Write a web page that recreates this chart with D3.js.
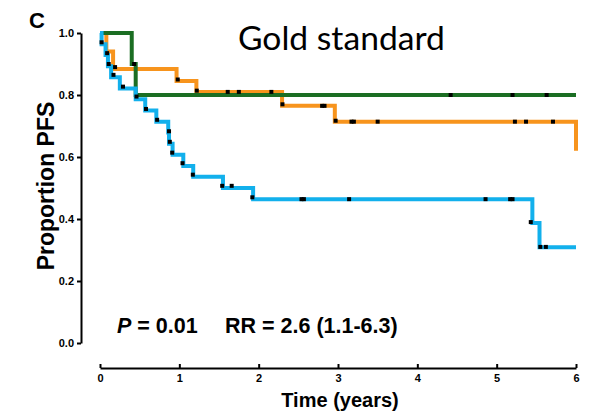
<!DOCTYPE html>
<html>
<head>
<meta charset="utf-8">
<script src="https://cdn.jsdelivr.net/npm/d3@7"></script>
<style>
  html, body { margin: 0; padding: 0; background: #fff; }
  svg { display: block; }
</style>
</head>
<body>
<svg id="chart" width="590" height="411"></svg>
<script>
// Kaplan–Meier step data: time (years) of each step and the survival level after it
const greenTimes  = [0, 0.40, 0.45, 6.0];
const greenSurv   = [1, 0.90, 0.80, 0.80];
const orangeTimes = [0, 0.08, 0.165, 0.965, 1.215, 2.295, 2.96, 6.0];
const orangeSurv  = [1, 0.94, 0.884, 0.845, 0.81, 0.765, 0.714, 0.62];
const blueTimes   = [0, 0.02, 0.07, 0.10, 0.14, 0.25, 0.45, 0.57, 0.71, 0.86, 0.87, 0.915, 1.05, 1.175, 1.55, 1.93, 5.45, 5.54, 6.0];
const blueSurv    = [1, 0.964, 0.929, 0.893, 0.857, 0.821, 0.786, 0.75, 0.714, 0.679, 0.643, 0.607, 0.571, 0.536, 0.5, 0.464, 0.387, 0.309, 0.309];

// censoring ticks [time, level]
const greenCensor  = [[0.43, 0.90], [4.42, 0.80], [5.20, 0.80], [5.63, 0.80]];
const orangeCensor = [[0.19, 0.89], [0.98, 0.85], [1.22, 0.814], [1.61, 0.81], [1.75, 0.81], [2.16, 0.81],
                      [2.30, 0.77], [2.80, 0.765], [2.83, 0.765], [2.97, 0.717], [3.17, 0.714], [3.20, 0.714],
                      [3.50, 0.714], [5.23, 0.714], [5.37, 0.714], [5.71, 0.714]];
const blueCensor   = [[0.02, 0.97], [0.09, 0.935], [0.11, 0.90], [0.17, 0.865], [0.29, 0.827], [0.46, 0.795],
                      [0.58, 0.755], [0.72, 0.72], [0.87, 0.683], [0.88, 0.649], [0.91, 0.614], [1.04, 0.58],
                      [1.17, 0.543], [1.54, 0.507], [1.66, 0.507], [1.92, 0.47], [2.54, 0.464], [2.57, 0.464],
                      [3.14, 0.464], [4.86, 0.464], [5.17, 0.464], [5.20, 0.464], [5.43, 0.39], [5.55, 0.31], [5.62, 0.31]];

const xTicks = [0, 1, 2, 3, 4, 5, 6];
const yTicks = [0, 0.2, 0.4, 0.6, 0.8, 1.0];

const panelLetter = "C";
const titleText = "Gold standard";
const xLabel = "Time (years)";
const yLabel = "Proportion PFS";
const pText = "= 0.01";
const rrText = "RR = 2.6 (1.1-6.3)";

const colors = { green: "#1b6e23", orange: "#f7941d", blue: "#12b0ec" };

const svg = d3.select("#chart");
const x = d3.scaleLinear().domain([0, 6]).range([100, 576]);
const y = d3.scaleLinear().domain([0, 1]).range([343, 33]);
const boldFont = "'Liberation Sans', Arial, Helvetica, sans-serif";

// y axis
const yAxis = svg.append("g")
  .attr("transform", `translate(81,0)`)
  .call(d3.axisLeft(y).tickValues(yTicks).tickFormat(d3.format(".1f")).tickSize(4).tickSizeOuter(0).tickPadding(3));
yAxis.select(".domain").attr("stroke-width", 2);
yAxis.selectAll(".tick line").attr("stroke-width", 2);
yAxis.selectAll("text").attr("font-family", boldFont).attr("font-weight", "bold").attr("font-size", 11).attr("fill", "#000");

// x axis (detached, below the plot)
const xAxis = svg.append("g")
  .attr("transform", `translate(0,368)`)
  .call(d3.axisBottom(x).tickValues(xTicks).tickFormat(d3.format("d")).tickSize(-4).tickSizeOuter(0).tickPadding(6));
xAxis.select(".domain").attr("stroke-width", 2);
xAxis.selectAll(".tick line").attr("stroke-width", 2);
xAxis.selectAll("text").attr("font-family", boldFont).attr("font-weight", "bold").attr("font-size", 11).attr("fill", "#000");

// survival curves
const step = d3.line().x(d => x(d[0])).y(d => y(d[1])).curve(d3.curveStepAfter);
const series = [
  { name: "orange", t: orangeTimes, s: orangeSurv, c: orangeCensor },
  { name: "green",  t: greenTimes,  s: greenSurv,  c: greenCensor },
  { name: "blue",   t: blueTimes,   s: blueSurv,   c: blueCensor }
];
series.forEach(sr => {
  const pts = sr.t.map((t, i) => [t, sr.s[i]]);
  svg.append("path")
    .attr("d", step(pts))
    .attr("fill", "none")
    .attr("stroke", colors[sr.name])
    .attr("stroke-width", 4);
});
series.forEach(sr => {
  svg.append("g").selectAll("rect").data(sr.c).join("rect")
    .attr("x", d => x(d[0]) - 2)
    .attr("y", d => y(d[1]) - 2)
    .attr("width", 4)
    .attr("height", 4)
    .attr("fill", "#000");
});

// panel letter
svg.append("text").attr("x", 29).attr("y", 28)
  .attr("font-family", boldFont).attr("font-weight", "bold").attr("font-size", 22)
  .text(panelLetter);

// title, fitted to its width
const title = svg.append("text").attr("x", 238).attr("y", 50)
  .attr("font-family", "Lato, 'Open Sans', sans-serif").attr("font-size", 28).attr("fill", "#000")
  .text(titleText);
const tw = title.node().getComputedTextLength();
title.attr("font-size", 28 * 207 / tw);

// axis titles
svg.append("text").attr("x", 340).attr("y", 407).attr("text-anchor", "middle")
  .attr("font-family", boldFont).attr("font-weight", "bold").attr("font-size", 20)
  .text(xLabel);
svg.append("text").attr("transform", "translate(54,186) rotate(-90)").attr("text-anchor", "middle")
  .attr("font-family", boldFont).attr("font-weight", "bold").attr("font-size", 23)
  .text(yLabel);

// statistics annotation
const stat = svg.append("text").attr("x", 117).attr("y", 333)
  .attr("font-family", boldFont).attr("font-weight", "bold").attr("font-size", 21.5);
stat.append("tspan").attr("font-style", "italic").text("P");
stat.append("tspan").text(" " + pText);
svg.append("text").attr("x", 225).attr("y", 333)
  .attr("font-family", boldFont).attr("font-weight", "bold").attr("font-size", 21.5)
  .text(rrText);
</script>
</body>
</html>
